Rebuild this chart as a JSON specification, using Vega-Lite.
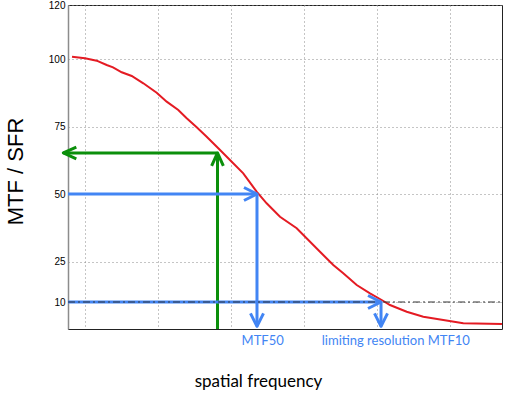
{
  "$schema": "https://vega.github.io/schema/vega-lite/v6.json",
  "width": 434,
  "height": 324,
  "autosize": {"type": "none"},
  "padding": {"left": 68, "top": 5, "right": 3, "bottom": 70},
  "background": "white",
  "config": {
    "view": {"stroke": "#222222", "strokeWidth": 1},
    "axis": {
      "grid": true,
      "gridColor": "#8a8a8a",
      "gridDash": [1, 3],
      "gridWidth": 1,
      "gridOpacity": 1,
      "ticks": false,
      "labelFont": "Liberation Sans",
      "labelFontSize": 10,
      "labelColor": "#000000",
      "domainColor": "#222222"
    }
  },
  "datasets": {
    "mtf": [
      {"x": 0.0822, "y": 100.85},
      {"x": 0.1, "y": 100.26},
      {"x": 0.116, "y": 99.37},
      {"x": 0.1297, "y": 97.78},
      {"x": 0.1384, "y": 96.93},
      {"x": 0.1503, "y": 95.07},
      {"x": 0.164, "y": 93.7},
      {"x": 0.1799, "y": 91.0},
      {"x": 0.1982, "y": 87.52},
      {"x": 0.2119, "y": 84.19},
      {"x": 0.2278, "y": 81.11},
      {"x": 0.2393, "y": 78.04},
      {"x": 0.253, "y": 74.7},
      {"x": 0.2667, "y": 71.22},
      {"x": 0.2826, "y": 66.93},
      {"x": 0.2986, "y": 62.59},
      {"x": 0.3168, "y": 57.67},
      {"x": 0.3351, "y": 50.85},
      {"x": 0.3488, "y": 46.56},
      {"x": 0.3671, "y": 41.59},
      {"x": 0.39, "y": 37.3},
      {"x": 0.4219, "y": 28.63},
      {"x": 0.4401, "y": 23.7},
      {"x": 0.4538, "y": 20.63},
      {"x": 0.4722, "y": 16.3},
      {"x": 0.4904, "y": 13.22},
      {"x": 0.5064, "y": 10.74},
      {"x": 0.5178, "y": 8.89},
      {"x": 0.5407, "y": 6.41},
      {"x": 0.5634, "y": 4.56},
      {"x": 0.5908, "y": 3.33},
      {"x": 0.6182, "y": 2.11},
      {"x": 0.6712, "y": 1.85}
    ],
    "segments": [
      {"kind": "measured", "x": 0.2815, "y": 0, "x2": 0.2815, "y2": 65.2},
      {"kind": "measured", "x": 0.2815, "y": 65.2, "x2": 0.0703, "y2": 65.2},
      {"kind": "MTF50", "x": 0.07671, "y": 50, "x2": 0.3356, "y2": 50},
      {"kind": "MTF50", "x": 0.3356, "y": 50, "x2": 0.3356, "y2": 1},
      {"kind": "MTF10", "x": 0.07671, "y": 10, "x2": 0.5055, "y2": 10},
      {"kind": "MTF10", "x": 0.5055, "y": 10, "x2": 0.5055, "y2": 1}
    ],
    "reference": [
      {"x": 0.07671, "x2": 0.67123, "y": 10}
    ],
    "heads": [
      {"kind": "measured", "dir": "up", "x": 0.2815, "y": 65.2},
      {"kind": "measured", "dir": "left", "x": 0.0703, "y": 65.2},
      {"kind": "MTF50", "dir": "right", "x": 0.3356, "y": 50},
      {"kind": "MTF50", "dir": "down", "x": 0.3356, "y": 1},
      {"kind": "MTF10", "dir": "right", "x": 0.5055, "y": 10},
      {"kind": "MTF10", "dir": "down", "x": 0.5055, "y": 1}
    ],
    "labels": [
      {"kind": "MTF50", "label": "MTF50", "x": 0.3434, "y": -4.44},
      {"kind": "MTF10", "label": "limiting resolution MTF10", "x": 0.5258, "y": -4.44}
    ]
  },
  "encoding": {
    "x": {
      "field": "x",
      "type": "quantitative",
      "scale": {"domain": [0.07671, 0.67123], "nice": false, "zero": false},
      "axis": {
        "values": [0.1, 0.2, 0.3, 0.4, 0.5, 0.6],
        "labels": false,
        "domain": false,
        "title": "spatial frequency",
        "titleFont": "Lato",
        "titleFontSize": 17,
        "titleFontWeight": "normal",
        "titleColor": "#000000",
        "titleX": 190,
        "titleY": 52,
        "titleAlign": "center",
        "titleBaseline": "middle"
      }
    },
    "y": {
      "field": "y",
      "type": "quantitative",
      "scale": {"domain": [0, 120], "nice": false, "zero": false},
      "axis": {
        "values": [10, 25, 50, 75, 100, 120],
        "labelPadding": 3,
        "domainColor": "#8c8c8c",
        "domainWidth": 1.5,
        "title": "MTF / SFR",
        "titleFont": "Liberation Sans",
        "titleFontSize": 22,
        "titleFontWeight": "normal",
        "titleColor": "#000000",
        "titleX": -53,
        "titleY": 166,
        "titleAlign": "center",
        "titleBaseline": "middle",
        "titleAngle": -90
      }
    }
  },
  "layer": [
    {
      "data": {"name": "mtf"},
      "mark": {"type": "line", "color": "#e41b23", "strokeWidth": 2}
    },
    {
      "data": {"name": "segments"},
      "mark": {"type": "rule", "strokeWidth": 3},
      "encoding": {
        "x2": {"field": "x2"},
        "y2": {"field": "y2"},
        "color": {
          "field": "kind",
          "type": "nominal",
          "scale": {"domain": ["measured", "MTF50", "MTF10"], "range": ["#0b8f0b", "#4285f4", "#4285f4"]},
          "legend": null
        }
      }
    },
    {
      "data": {"name": "reference"},
      "mark": {"type": "rule", "color": "#333333", "strokeWidth": 1, "strokeDash": [7, 3, 2, 3]},
      "encoding": {"x2": {"field": "x2"}}
    },
    {
      "data": {"name": "heads"},
      "mark": {"type": "point", "filled": false, "strokeWidth": 3, "size": 676, "opacity": 1, "strokeJoin": "round"},
      "encoding": {
        "shape": {
          "field": "dir",
          "type": "nominal",
          "scale": {
            "domain": ["right", "left", "up", "down"],
            "range": ["M-1,-0.5L0,0L-1,0.5", "M1,-0.45L0,0L1,0.45", "M-0.45,1L0,0L0.45,1", "M-0.5,-1L0,0L0.5,-1"]
          },
          "legend": null
        },
        "color": {
          "field": "kind",
          "type": "nominal",
          "scale": {"domain": ["measured", "MTF50", "MTF10"], "range": ["#0b8f0b", "#4285f4", "#4285f4"]},
          "legend": null
        }
      }
    },
    {
      "data": {"name": "labels"},
      "mark": {"type": "text", "font": "Lato", "fontSize": 13, "align": "center", "baseline": "middle"},
      "encoding": {
        "text": {"field": "label"},
        "color": {
          "field": "kind",
          "type": "nominal",
          "scale": {"domain": ["measured", "MTF50", "MTF10"], "range": ["#0b8f0b", "#4285f4", "#4285f4"]},
          "legend": null
        }
      }
    }
  ]
}
